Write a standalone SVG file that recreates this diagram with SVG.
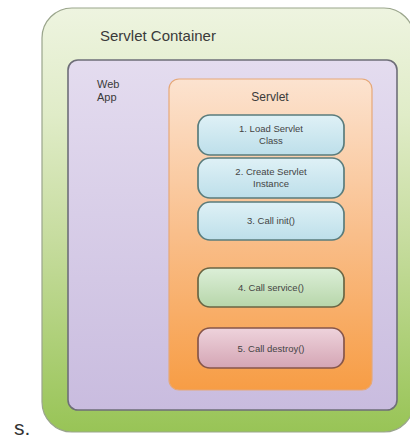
<svg xmlns="http://www.w3.org/2000/svg" width="410" height="438" viewBox="0 0 410 438">
<defs>
<linearGradient id="gGreen" x1="0" y1="0" x2="0" y2="1">
<stop offset="0" stop-color="#eef4e0"/><stop offset="0.25" stop-color="#e0ecc8"/><stop offset="0.55" stop-color="#c6dc9e"/><stop offset="1" stop-color="#98c456"/>
</linearGradient>
<linearGradient id="gPurple" x1="0" y1="0" x2="0" y2="1">
<stop offset="0" stop-color="#e4dcef"/><stop offset="1" stop-color="#c9bcdf"/>
</linearGradient>
<linearGradient id="gOrange" x1="0" y1="0" x2="0" y2="1">
<stop offset="0" stop-color="#fce3d0"/><stop offset="0.5" stop-color="#f9be8a"/><stop offset="1" stop-color="#f79d45"/>
</linearGradient>
<linearGradient id="gBlue" x1="0" y1="0" x2="0" y2="1">
<stop offset="0" stop-color="#dff1f6"/><stop offset="1" stop-color="#bddfea"/>
</linearGradient>
<linearGradient id="gLGreen" x1="0" y1="0" x2="0" y2="1">
<stop offset="0" stop-color="#dcefd8"/><stop offset="1" stop-color="#b7d6aa"/>
</linearGradient>
<linearGradient id="gPink" x1="0" y1="0" x2="0" y2="1">
<stop offset="0" stop-color="#eed3dc"/><stop offset="1" stop-color="#d4a5b4"/>
</linearGradient>
</defs>
<style>
text{font-family:"Liberation Sans",Arial,sans-serif;fill:#4a4a4a}
.lbl{font-size:15px;fill:#3a3a3a}
.small{font-size:12px}
.tiny{font-size:11px}
.step{font-size:9.5px;text-anchor:middle;fill:#444}
.step-box{stroke-width:1.7}
</style>
<rect x="0" y="0" width="410" height="438" fill="#ffffff"/>
<g id="servlet-container">
<rect x="42" y="8" width="372" height="424" rx="30" fill="url(#gGreen)" stroke="#9aa58c" stroke-width="1.2"/>
<text class="lbl" x="100" y="41">Servlet Container</text>
</g>
<g id="web-app">
<rect x="68" y="60" width="329" height="350" rx="10" fill="url(#gPurple)" stroke="#6e6e78" stroke-width="1.6"/>
<text class="lbl tiny" x="97" y="88">Web</text>
<text class="lbl tiny" x="97" y="101">App</text>
</g>
<g id="servlet">
<rect x="169" y="79" width="203" height="311" rx="10" fill="url(#gOrange)" stroke="#e6a878" stroke-width="1.2"/>
<text class="lbl small" x="270" y="101" text-anchor="middle">Servlet</text>
</g>
<g id="step1">
<rect class="step-box" x="198" y="115" width="146" height="40" rx="12" fill="url(#gBlue)" stroke="#5a7c7c"/>
<text class="step" x="271" y="132">1. Load Servlet</text>
<text class="step" x="271" y="144">Class</text>
</g>
<g id="step2">
<rect class="step-box" x="198" y="158" width="146" height="40" rx="12" fill="url(#gBlue)" stroke="#5a7c7c"/>
<text class="step" x="271" y="175">2. Create Servlet</text>
<text class="step" x="271" y="187">Instance</text>
</g>
<g id="step3">
<rect class="step-box" x="198" y="202" width="146" height="38" rx="12" fill="url(#gBlue)" stroke="#5a7c7c"/>
<text class="step" x="271" y="224">3. Call init()</text>
</g>
<g id="step4">
<rect class="step-box" x="198" y="268" width="146" height="39" rx="12" fill="url(#gLGreen)" stroke="#6a6644"/>
<text class="step" x="271" y="291">4. Call service()</text>
</g>
<g id="step5">
<rect class="step-box" x="198" y="328" width="146" height="40" rx="12" fill="url(#gPink)" stroke="#86564a"/>
<text class="step" x="271" y="352">5. Call destroy()</text>
</g>
<g id="connectors"></g>
<text x="14" y="435" style="font-size:21px;fill:#333">s.</text>
</svg>
